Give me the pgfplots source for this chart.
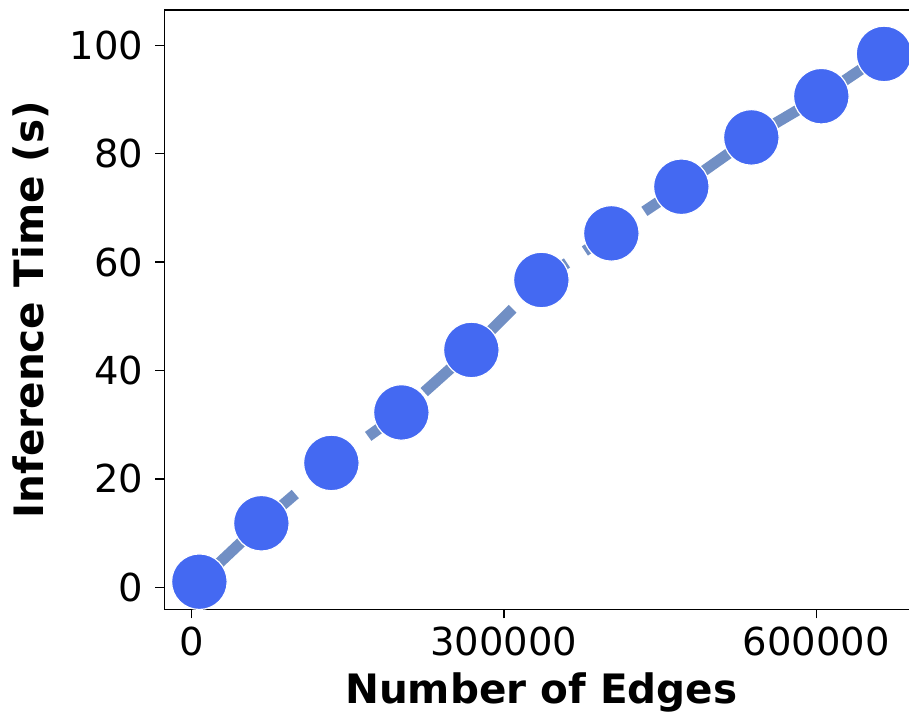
\documentclass[border=0pt]{standalone}
\usepackage{pgfplots}
\pgfplotsset{compat=1.18}
\usepackage{fontspec}
\setmainfont{DejaVu Sans}
\definecolor{mk}{RGB}{68,105,242}
\definecolor{ln}{RGB}{113,143,196}
\begin{document}
\begin{tikzpicture}
\useasboundingbox (-164.3pt,-104.7pt) rectangle (744.7pt,609.3pt);
\clip (-164.3pt,-104.7pt) rectangle (744.7pt,609.3pt);
\begin{axis}[
  scale only axis, width=754.1pt, height=599.3pt,
  xmin=-26000, xmax=698000, ymin=-4.04, ymax=106.5,
  scaled x ticks=false, scaled y ticks=false,
  xtick={0,300000,600000}, xticklabels={0,300000,600000},
  ytick={0,20,40,60,80,100}, yticklabels={0,20,40,60,80,100},
  xtick pos=lower, ytick pos=left,
  tick align=outside, major tick length=9pt,
  tick style={black, line width=1.4pt},
  axis line style={line width=1.4pt},
  ticklabel style={font=\fontsize{38.5}{46}\selectfont, inner sep=0pt},
  xticklabel style={anchor=north},
  yticklabel style={anchor=east},
  xticklabel shift=8pt, yticklabel shift=12pt,
  label style={font=\fontsize{40.5}{48}\selectfont\bfseries, inner sep=0pt},
  xlabel={Number of Edges}, ylabel={Inference Time (s)},
  xlabel style={at={(axis description cs:0.5,-0.158)}, anchor=base},
  ylabel style={at={(axis description cs:-0.1768,0.5)}, anchor=center},
  clip=false,
]
\addplot[draw=ln, line width=11pt, dash pattern=on 50pt off 21.5pt, dash phase=63pt,
  mark=*, mark size=27.8pt, mark options={fill=mk, draw=white, line width=1.2pt, solid}]
  coordinates {
  (7680,1.05) (67200,11.83) (134400,22.96) (201600,32.27) (268800,43.8)
  (336000,56.7) (403200,65.3) (470400,73.9) (537600,83.0) (604800,90.6)
  (665000,98.4)
  };
\end{axis}
\end{tikzpicture}
\end{document}
